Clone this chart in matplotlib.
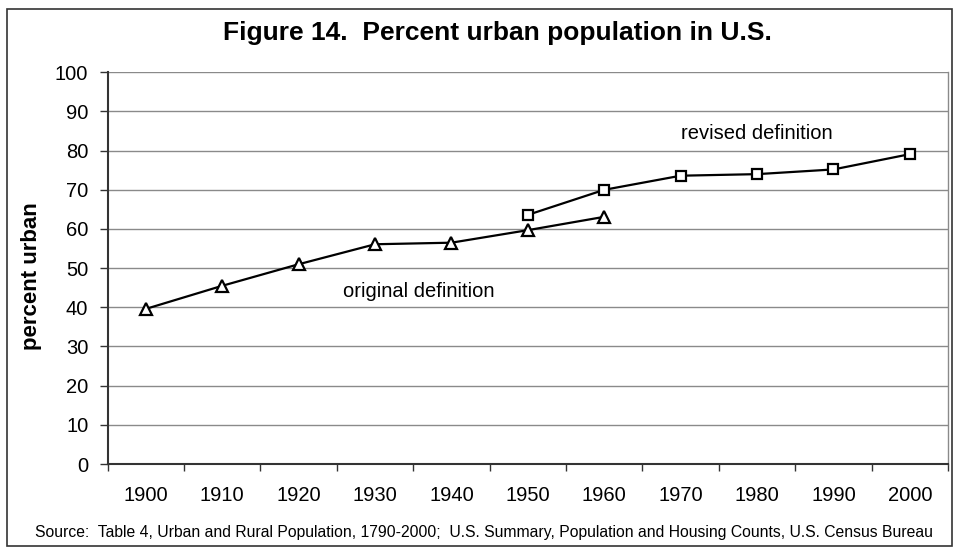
import matplotlib
matplotlib.use("Agg")
import matplotlib.pyplot as plt
from matplotlib.patches import Rectangle
import numpy as np

plt.rcParams['font.family'] = ['Liberation Sans', 'DejaVu Sans']

years = ["1900", "1910", "1920", "1930", "1940", "1950", "1960", "1970", "1980", "1990", "2000"]
orig_years = ["1900", "1910", "1920", "1930", "1940", "1950", "1960"]
orig_values = [39.6, 45.5, 51.0, 56.1, 56.5, 59.7, 63.1]
rev_years = ["1950", "1960", "1970", "1980", "1990", "2000"]
rev_values = [63.6, 70.0, 73.6, 74.0, 75.2, 79.1]
yticks = [0, 10, 20, 30, 40, 50, 60, 70, 80, 90, 100]

W, H = 954, 548
fig = plt.figure(figsize=(W / 100, H / 100), dpi=100)
ax = fig.add_axes([107.7 / W, 1 - 464 / H, (948 - 107.7) / W, (464 - 72.3) / H])

xi = {y: i for i, y in enumerate(years)}
ox = [xi[y] for y in orig_years]
rx = [xi[y] for y in rev_years]

ax.plot(ox, orig_values, color='black', lw=1.6, marker='^', ms=9,
        mfc='white', mec='black', mew=1.6, zorder=3, clip_on=False)
ax.plot(rx, rev_values, color='black', lw=1.6, marker='s', ms=7.5,
        mfc='white', mec='black', mew=1.6, zorder=3, clip_on=False)

ax.set_xlim(-0.5, len(years) - 0.5)
ax.set_ylim(0, 100)
ax.set_yticks(yticks)
ax.set_yticklabels([str(v) for v in yticks], fontsize=14.5)
ax.set_xticks(np.arange(-0.5, len(years), 1.0))
ax.set_xticklabels([])
ax.set_xticks(np.arange(len(years)), minor=True)
ax.set_xticklabels(years, minor=True, fontsize=14.5)
ax.tick_params(axis='x', which='minor', length=0, pad=16)
ax.tick_params(axis='x', which='major', length=5, width=1, color='#333333', direction='out')
ax.tick_params(axis='y', length=6, width=1, color='#333333', direction='out', pad=8)

for v in yticks[1:]:
    ax.axhline(v, color='#8a8a8a', lw=1.0, zorder=1)

ax.spines['left'].set_color('#333333')
ax.spines['left'].set_linewidth(1.5)
ax.spines['bottom'].set_color('#333333')
ax.spines['bottom'].set_linewidth(1.5)
ax.spines['right'].set_color('#8a8a8a')
ax.spines['right'].set_linewidth(1.0)
ax.spines['top'].set_visible(False)

ax.set_ylabel('percent urban', fontsize=16, fontweight='bold')
ax.yaxis.set_label_coords((42 - 107.7) / (948 - 107.7), (464 - 276) / (464 - 72.3))

ax.text(3.57, 44, 'original definition', fontsize=14.5, ha='center', va='center')
ax.text(8.0, 84.5, 'revised definition', fontsize=14.5, ha='center', va='center')

fig.text(497 / W, 1 - 33 / H, 'Figure 14.  Percent urban population in U.S.',
         fontsize=19, fontweight='bold', ha='center', va='center')
fig.text(484 / W, 1 - 532 / H,
         'Source:  Table 4, Urban and Rural Population, 1790-2000;  U.S. Summary, Population and Housing Counts, U.S. Census Bureau',
         fontsize=11.3, ha='center', va='center')

fig.patches.append(Rectangle((7 / W, 1 - 546 / H), (952 - 7) / W, (546 - 9) / H,
                             transform=fig.transFigure, fill=False,
                             edgecolor='#333333', lw=1.2))

fig.savefig('out.png', dpi=100)
